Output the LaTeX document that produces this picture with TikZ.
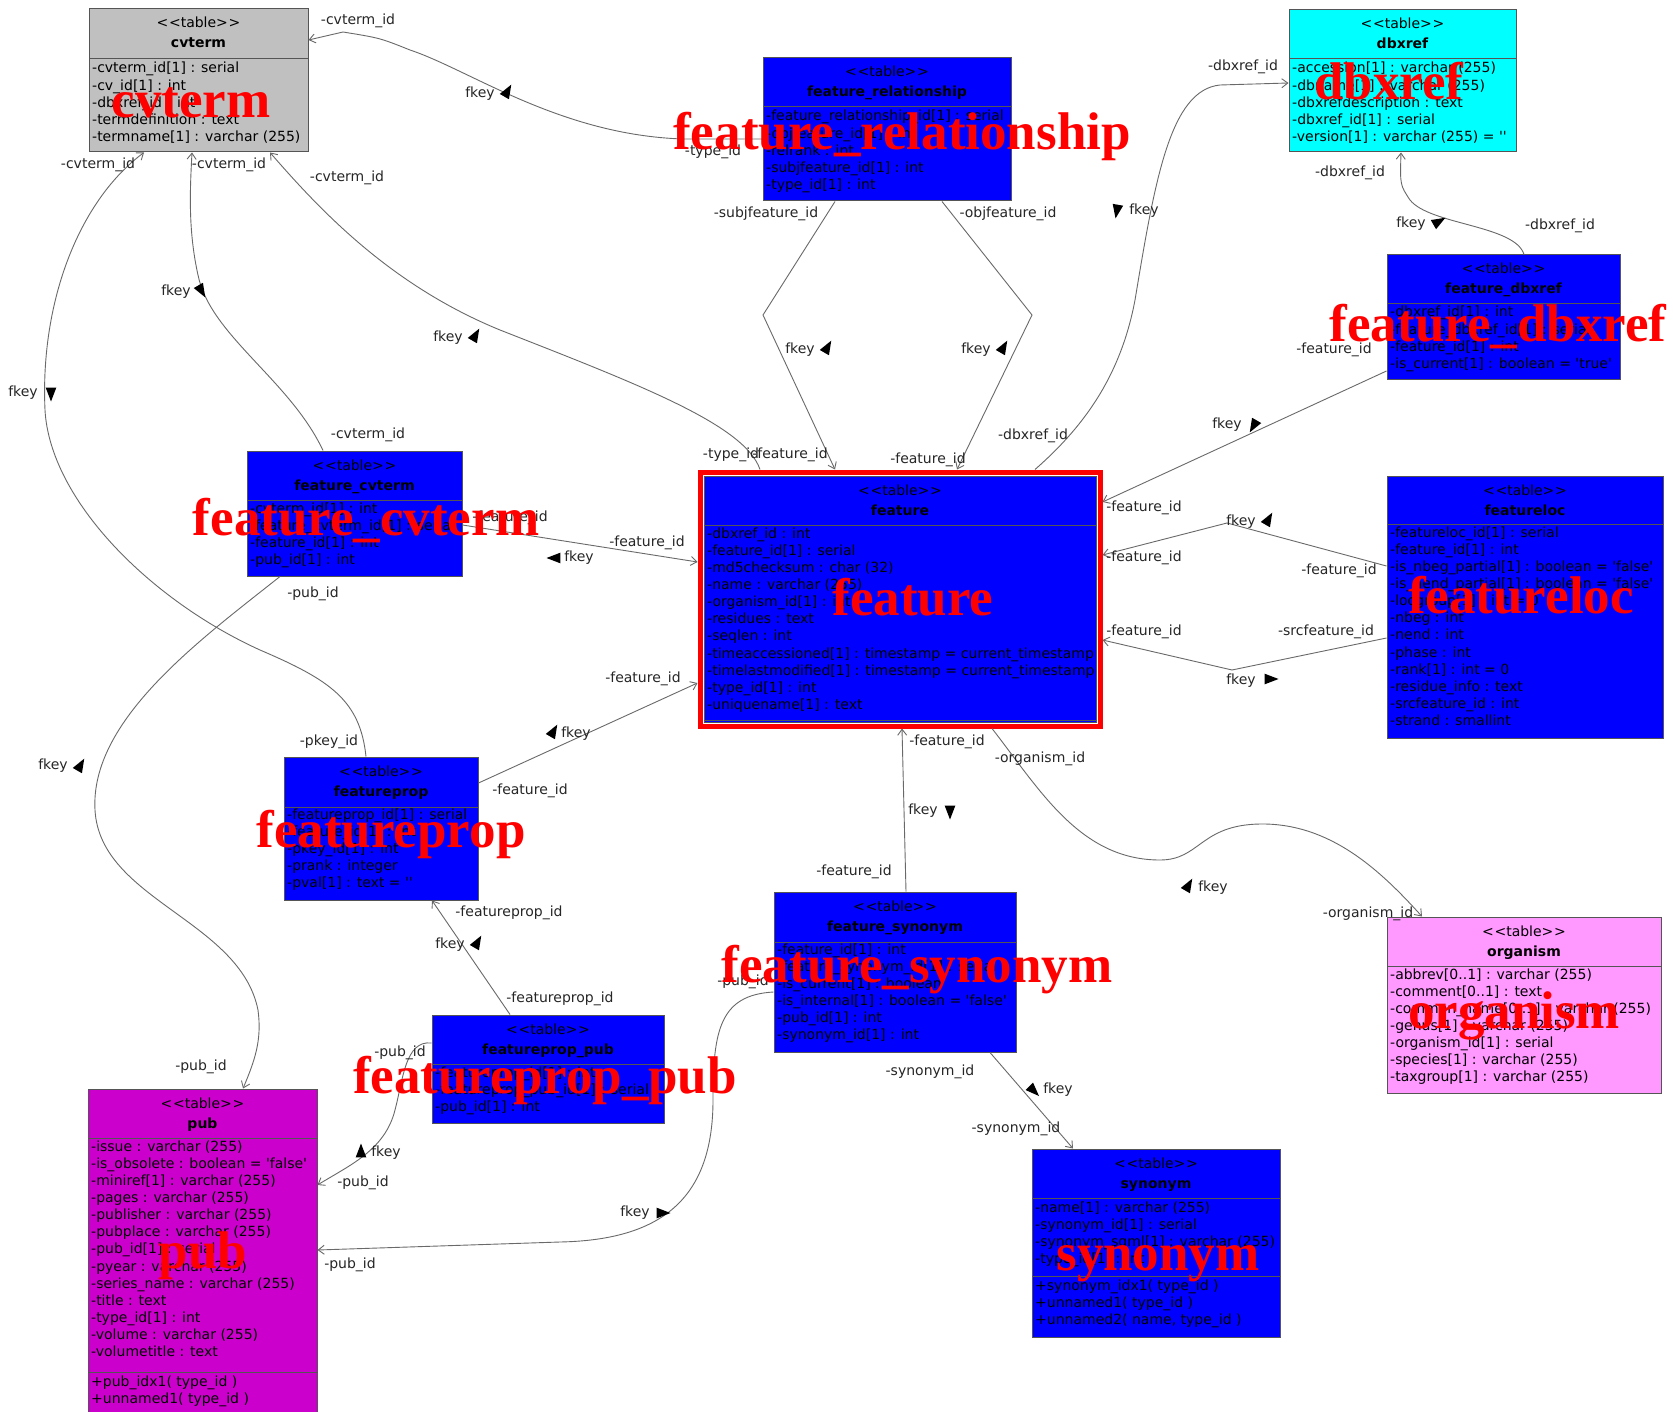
\documentclass[tikz,border=0pt]{standalone}
\usepackage{fontspec}
\setmainfont{DejaVu Sans}
\newfontfamily\labelserif{Liberation Serif}
\usetikzlibrary{arrows.meta,fit}

\definecolor{tblblue}{RGB}{0,0,255}
\definecolor{tblgray}{RGB}{192,192,192}
\definecolor{tblcyan}{RGB}{0,255,255}
\definecolor{tblpink}{RGB}{255,153,255}
\definecolor{tblmagenta}{RGB}{204,0,204}
\definecolor{edgegray}{RGB}{105,105,105}
\definecolor{boxline}{RGB}{85,85,85}

\newcommand\sq{\textquotesingle}
\newcommand\stereo{\textless\kern0.6pt\textless table\textgreater\kern0.6pt\textgreater}

\tikzset{
  tblbox/.style={draw=boxline, line width=1pt, inner sep=0pt},
  tblline/.style={draw=boxline, line width=1pt},
  hdr/.style={anchor=base, inner sep=0pt},
  rowtxt/.style={anchor=base west, inner sep=0pt},
  elabel/.style={inner sep=0pt, text=black!85},
  fk/.style={draw=edgegray, line width=0.9pt, -{Straight Barb[length=6pt,width=9pt]}},
  biglabel/.style={anchor=base, inner sep=0pt, text=red,
    font=\labelserif\bfseries\fontsize{53}{53}\selectfont},
}

% a table box: id, x1, y1, x2, y2, divider y, fill, title
\newcommand\umltable[8]{%
  \node[tblbox, fill=#7, fit={(#2,#3) (#4,#5)}] (#1) {};
  \draw[tblline] (#2,#6) -- (#4,#6);
  \node[hdr] (#1-stereo) at ({(#2+#4)/2},{#3+19}) {\stereo};
  \node[hdr, font=\fontsize{14}{17}\selectfont\bfseries] (#1-title) at ({(#2+#4)/2},{#3+39}) {#8};
}
% attribute rows: id prefix, box left x, centre y of first row, rows
\newcommand\tblrows[4]{%
  \foreach \rowtext [count=\k from 0] in {#4}
    \node[rowtxt] (#1-\k) at ({#2+3},{#3+5+17.15*\k}) {\rowtext};
}
% direction mark of a key: name, x, y, pointing angle (counter-clockwise from east)
\newcommand\fkmark[4]{%
  \coordinate (#1) at (#2,#3);
  \fill[black] ({#2+8.5*cos(#4)},{#3-8.5*sin(#4)})
    -- ({#2+7.5*cos(#4+135)},{#3-7.5*sin(#4+135)})
    -- ({#2+7.5*cos(#4-135)},{#3-7.5*sin(#4-135)}) -- cycle;
}

\begin{document}
\begin{tikzpicture}[x=1pt,y=-1pt,font=\fontsize{14}{17}\selectfont]
\useasboundingbox (0,0) rectangle (1673,1412);
\fill[white] (0,0) rectangle (1673,1412);

% ---------------- tables ----------------
\umltable{cvterm}{89}{9}{308}{152}{59}{tblgray}{cvterm}
\tblrows{cvterm}{89}{68}{-cvterm\_id[1] : serial,-cv\_id[1] : int,-dbxref\_id : int,-termdefinition : text,-termname[1] : varchar (255)}

\umltable{frel}{763}{58}{1011}{201}{107}{tblblue}{feature\_relationship}
\tblrows{frel}{763}{116}{-feature\_relationship\_id[1] : serial,-objfeature\_id[1] : int,-relrank : int,-subjfeature\_id[1] : int,-type\_id[1] : int}

\umltable{dbxref}{1289}{10}{1516}{152}{59}{tblcyan}{dbxref}
\tblrows{dbxref}{1289}{68}{-accession[1] : varchar (255),-dbname[1] : varchar (255),-dbxrefdescription : text,-dbxref\_id[1] : serial,-version[1] : varchar (255) = \sq\sq}

\umltable{fdbx}{1387}{255}{1620}{380}{304}{tblblue}{feature\_dbxref}
\tblrows{fdbx}{1387}{312}{-dbxref\_id[1] : int,-feature\_dbxref\_id[1] : serial,-feature\_id[1] : int,-is\_current[1] : boolean = \sq true\sq}

\umltable{fcv}{247}{451}{462}{576}{500}{tblblue}{feature\_cvterm}
\tblrows{fcv}{247}{508}{-cvterm\_id[1] : int,-feature\_cvterm\_id[1] : serial,-feature\_id[1] : int,-pub\_id[1] : int}

\umltable{feature}{704}{476}{1096}{722}{525}{tblblue}{feature}
\draw[tblline] (704,720) -- (1096,720);
\tblrows{feature}{704}{533}{-dbxref\_id : int,-feature\_id[1] : serial,-md5checksum : char (32),-name : varchar (255),-organism\_id[1] : int,-residues : text,-seqlen : int,-timeaccessioned[1] : timestamp = current\_timestamp,-timelastmodified[1] : timestamp = current\_timestamp,-type\_id[1] : int,-uniquename[1] : text}
\node[draw=red, line width=5pt, fit=(feature), inner sep=3.5pt] (featureframe) {};

\umltable{floc}{1387}{476}{1663}{738}{524}{tblblue}{featureloc}
\tblrows{floc}{1387}{532}{-featureloc\_id[1] : serial,-feature\_id[1] : int,-is\_nbeg\_partial[1] : boolean = \sq false\sq,-is\_nend\_partial[1] : boolean = \sq false\sq,-locgroup[1] : int = 0,-nbeg : int,-nend : int,-phase : int,-rank[1] : int = 0,-residue\_info : text,-srcfeature\_id : int,-strand : smallint}

\umltable{fprop}{284}{757}{478}{900}{807}{tblblue}{featureprop}
\tblrows{fprop}{284}{814}{-featureprop\_id[1] : serial,-feature\_id[1] : int,-pkey\_id[1] : int,-prank : integer,-pval[1] : text = \sq\sq}

\umltable{fsyn}{774}{892}{1016}{1052}{942}{tblblue}{feature\_synonym}
\tblrows{fsyn}{774}{949}{-feature\_id[1] : int,-feature\_synonym\_id[1] : serial,-is\_current[1] : boolean,-is\_internal[1] : boolean = \sq false\sq,-pub\_id[1] : int,-synonym\_id[1] : int}

\umltable{organism}{1387}{917}{1661}{1093}{966}{tblpink}{organism}
\tblrows{organism}{1387}{974}{-abbrev[0..1] : varchar (255),-comment[0..1] : text,-common\_name[0..1] : varchar (255),-genus[1] : varchar (255),-organism\_id[1] : serial,-species[1] : varchar (255),-taxgroup[1] : varchar (255)}

\umltable{fpp}{432}{1015}{664}{1123}{1064}{tblblue}{featureprop\_pub}
\tblrows{fpp}{432}{1072}{-featureprop\_id[1] : int,-featureprop\_pub\_id[1] : serial,-pub\_id[1] : int}

\umltable{pub}{88}{1089}{317}{1425}{1138}{tblmagenta}{pub}
\draw[tblline] (88,1372) -- (317,1372);
\tblrows{pub}{88}{1146}{-issue : varchar (255),-is\_obsolete : boolean = \sq false\sq,-miniref[1] : varchar (255),-pages : varchar (255),-publisher : varchar (255),-pubplace : varchar (255),-pub\_id[1] : serial,-pyear : varchar (255),-series\_name : varchar (255),-title : text,-type\_id[1] : int,-volume : varchar (255),-volumetitle : text}
\tblrows{pubop}{88}{1381}{+pub\_idx1( type\_id ),+unnamed1( type\_id )}

\umltable{synonym}{1032}{1149}{1280}{1337}{1198}{tblblue}{synonym}
\draw[tblline] (1032,1276) -- (1280,1276);
\tblrows{synonym}{1032}{1207}{-name[1] : varchar (255),-synonym\_id[1] : serial,-synonym\_sgml[1] : varchar (255),-type\_id[1] : int}
\tblrows{synop}{1032}{1285}{+synonym\_idx1( type\_id ),+unnamed1( type\_id ),{+unnamed2( name, type\_id )}}

% ---------------- foreign keys ----------------
% feature_relationship.type_id -> cvterm
\draw[fk] (frel.west |- 0,139) -- (683,139) .. controls (560,135) and (470,70) .. (410,50) .. controls (380,38) .. (343,32) -- (cvterm.east |- 0,40);
\node[elabel] (e1a) at (358,21) {-cvterm\_id};
\node[elabel] (e1b) at (480,94) {fkey};
\fkmark{e1t}{507}{92}{60}
\node[elabel] (e1c) at (713,152) {-type\_id};

% feature_cvterm.cvterm_id -> cvterm
\draw[fk] (fcv.north -| 323,0) .. controls (290,380) and (210,335) .. (198,275) .. controls (188,230) and (190,190) .. (cvterm.south -| 192,0);
\node[elabel] (e2a) at (368,435) {-cvterm\_id};
\node[elabel] (e2b) at (229,165) {-cvterm\_id};
\node[elabel] (e2c) at (176,292) {fkey};
\fkmark{e2t}{201}{290}{-60}

% feature.type_id -> cvterm
\draw[fk] (featureframe.north -| 760,0) .. controls (745,425) and (640,385) .. (500,330) .. controls (390,285) and (320,210) .. (cvterm.south -| 270,0);
\node[elabel] (e3a) at (347,178) {-cvterm\_id};
\node[elabel] (e3b) at (448,338) {fkey};
\fkmark{e3t}{475}{336}{60}
\node[elabel] (e3c) at (731,455) {-type\_id};

% featureprop.pkey_id -> cvterm
\draw[fk] (fprop.north -| 366,0) .. controls (360,700) and (330,680) .. (260,650) .. controls (150,600) and (50,500) .. (45,410) .. controls (40,300) and (80,200) .. (cvterm.south -| 144,0);
\node[elabel] (e4a) at (98,165) {-cvterm\_id};
\node[elabel] (e4b) at (23,393) {fkey};
\fkmark{e4t}{51}{393}{-90}
\node[elabel] (e4c) at (329,742) {-pkey\_id};

% feature_relationship.subjfeature_id -> feature
\draw[fk] (frel.south -| 835,0) -- (763,315) -- (featureframe.north -| 835,0);
\node[elabel] (e5a) at (766,214) {-subjfeature\_id};
\node[elabel] (e5b) at (800,350) {fkey};
\fkmark{e5t}{827}{348}{60}
\node[elabel] (e5c) at (790,455) {-feature\_id};

% feature_relationship.objfeature_id -> feature
\draw[fk] (frel.south -| 942,0) -- (1032,315) -- (featureframe.north -| 957,0);
\node[elabel] (e6a) at (1008,214) {-objfeature\_id};
\node[elabel] (e6b) at (976,350) {fkey};
\fkmark{e6t}{1003}{348}{60}
\node[elabel] (e6c) at (928,460) {-feature\_id};

% feature.dbxref_id -> dbxref
\draw[fk] (featureframe.north -| 1035,0) .. controls (1080,430) and (1120,380) .. (1135,300) .. controls (1155,180) and (1170,90) .. (1220,85) -- (dbxref.west |- 0,83);
\node[elabel] (e7a) at (1033,436) {-dbxref\_id};
\node[elabel] (e7b) at (1144,211) {fkey};
\fkmark{e7t}{1117}{210}{-100}
\node[elabel] (e7c) at (1243,67) {-dbxref\_id};

% feature_dbxref.dbxref_id -> dbxref
\draw[fk] (fdbx.north -| 1524,0) .. controls (1515,225) and (1430,225) .. (1410,200) .. controls (1400,185) .. (dbxref.south -| 1401,0);
\node[elabel] (e8a) at (1350,173) {-dbxref\_id};
\node[elabel] (e8b) at (1411,224) {fkey};
\fkmark{e8t}{1438}{222}{30}
\node[elabel] (e8c) at (1560,226) {-dbxref\_id};

% feature_dbxref.feature_id -> feature
\draw[fk] (fdbx.west |- 0,371) -- (featureframe.east |- 0,502);
\node[elabel] (e9a) at (1334,350) {-feature\_id};
\node[elabel] (e9b) at (1227,425) {fkey};
\fkmark{e9t}{1254}{425}{-120}
\node[elabel] (e9c) at (1144,508) {-feature\_id};

% featureloc.feature_id -> feature
\draw[fk] (floc.west |- 0,566) -- (1227,523) -- (featureframe.east |- 0,555);
\node[elabel] (e10a) at (1144,558) {-feature\_id};
\node[elabel] (e10b) at (1241,522) {fkey};
\fkmark{e10t}{1268}{520}{60}
\node[elabel] (e10c) at (1339,571) {-feature\_id};

% featureloc.srcfeature_id -> feature
\draw[fk] (floc.west |- 0,638) -- (1232,670) -- (featureframe.east |- 0,640);
\node[elabel] (e11a) at (1144,632) {-feature\_id};
\node[elabel] (e11b) at (1241,681) {fkey};
\fkmark{e11t}{1270}{679}{0}
\node[elabel] (e11c) at (1326,632) {-srcfeature\_id};

% feature_cvterm.feature_id -> feature
\draw[fk] (fcv.east |- 0,525) -- (featureframe.west |- 0,562);
\node[elabel] (e12a) at (510,518) {-feature\_id};
\node[elabel] (e12b) at (647,543) {-feature\_id};
\node[elabel] (e12c) at (579,558) {fkey};
\fkmark{e12t}{555}{558}{180}

% featureprop.feature_id -> feature
\draw[fk] (fprop.east |- 0,783) -- (featureframe.west |- 0,683);
\node[elabel] (e13a) at (530,791) {-feature\_id};
\node[elabel] (e13b) at (576,734) {fkey};
\fkmark{e13t}{553}{732}{60}
\node[elabel] (e13c) at (643,679) {-feature\_id};

% feature_synonym.feature_id -> feature
\draw[fk] (fsyn.north -| 906,0) -- (featureframe.south -| 902,0);
\node[elabel] (e14a) at (947,742) {-feature\_id};
\node[elabel] (e14b) at (923,811) {fkey};
\fkmark{e14t}{950}{811}{-90}
\node[elabel] (e14c) at (854,872) {-feature\_id};

% feature.organism_id -> organism
\draw[fk] (featureframe.south -| 992,0) .. controls (1040,790) and (1080,860) .. (1160,860) .. controls (1200,860) and (1200,825) .. (1260,824) .. controls (1330,823) and (1380,870) .. (organism.north -| 1422,0);
\node[elabel] (e15a) at (1040,759) {-organism\_id};
\node[elabel] (e15b) at (1213,888) {fkey};
\fkmark{e15t}{1188}{886}{60}
\node[elabel] (e15c) at (1368,914) {-organism\_id};

% feature_synonym.synonym_id -> synonym
\draw[fk] (fsyn.south -| 990,0) -- (synonym.north -| 1073,0);
\node[elabel] (e16a) at (930,1072) {-synonym\_id};
\node[elabel] (e16b) at (1058,1090) {fkey};
\fkmark{e16t}{1033}{1090}{-45}
\node[elabel] (e16c) at (1016,1129) {-synonym\_id};

% feature_synonym.pub_id -> pub
\draw[fk] (fsyn.west |- 0,992) .. controls (720,995) and (713,1030) .. (713,1100) .. controls (713,1200) and (660,1240) .. (560,1242) -- (pub.east |- 0,1250);
\node[elabel] (e17a) at (743,982) {-pub\_id};
\node[elabel] (e17b) at (635,1213) {fkey};
\fkmark{e17t}{662}{1213}{0}
\node[elabel] (e17c) at (350,1265) {-pub\_id};

% featureprop_pub.pub_id -> pub
\draw[fk] (fpp.west |- 0,1043) .. controls (405,1040) and (403,1080) .. (395,1110) .. controls (385,1150) and (350,1165) .. (pub.east |- 0,1185);
\node[elabel] (e18a) at (400,1053) {-pub\_id};
\node[elabel] (e18b) at (386,1153) {fkey};
\fkmark{e18t}{361}{1152}{90}
\node[elabel] (e18c) at (363,1183) {-pub\_id};

% featureprop_pub.featureprop_id -> featureprop
\draw[fk] (fpp.north -| 510,0) -- (fprop.south -| 432,0);
\node[elabel] (e19a) at (509,913) {-featureprop\_id};
\node[elabel] (e19b) at (450,945) {fkey};
\fkmark{e19t}{477}{943}{60}
\node[elabel] (e19c) at (560,999) {-featureprop\_id};

% feature_cvterm.pub_id -> pub
\draw[fk] (fcv.south -| 280,0) .. controls (200,640) and (90,720) .. (95,810) .. controls (100,900) and (240,920) .. (258,1010) .. controls (262,1040) and (255,1060) .. (pub.north -| 243,0);
\node[elabel] (e20a) at (313,594) {-pub\_id};
\node[elabel] (e20b) at (53,766) {fkey};
\fkmark{e20t}{80}{766}{60}
\node[elabel] (e20c) at (201,1067) {-pub\_id};

% ---------------- large table captions ----------------
\node[biglabel] (cap-cvterm) at (191,118) {cvterm};
\node[biglabel] (cap-frel) at (902,150) {feature\_relationship};
\node[biglabel] (cap-dbxref) at (1389,100) {dbxref};
\node[biglabel] (cap-fdbx) at (1498,342) {feature\_dbxref};
\node[biglabel] (cap-fcv) at (366,535) {feature\_cvterm};
\node[biglabel] (cap-feature) at (913,615) {feature};
\node[biglabel] (cap-floc) at (1521,613) {featureloc};
\node[biglabel] (cap-fprop) at (391,847) {featureprop};
\node[biglabel] (cap-fsyn) at (917,982) {feature\_synonym};
\node[biglabel] (cap-organism) at (1514,1028) {organism};
\node[biglabel] (cap-fpp) at (545,1093) {featureprop\_pub};
\node[biglabel] (cap-pub) at (203,1268) {pub};
\node[biglabel] (cap-synonym) at (1158,1270) {synonym};
\end{tikzpicture}
\end{document}
